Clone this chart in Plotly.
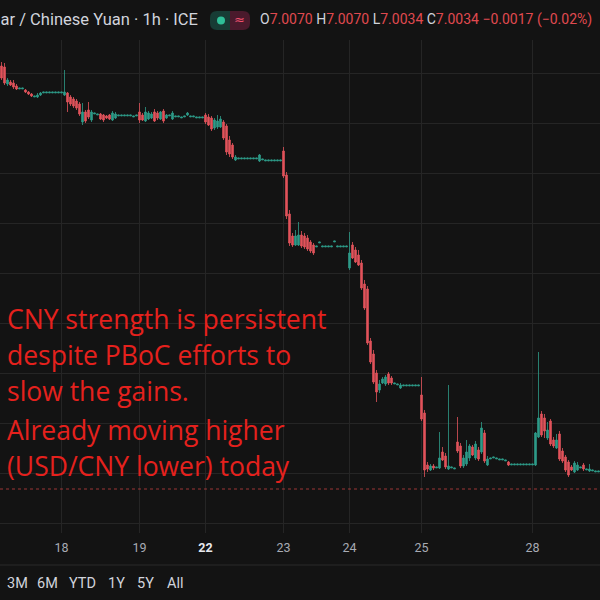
import plotly.graph_objects as go

# ---------------- data (hourly USD/CNY bars) ----------------
open_ = [
    7.0457, 7.0456, 7.0439, 7.0441, 7.0440, 7.0437, 7.0434, 7.0434, 7.0433, 7.0431,
    7.0429, 7.0426, 7.0426, 7.0428, 7.0430, 7.0430, 7.0430, 7.0430, 7.0430, 7.0430,
    7.0430, 7.0428, 7.0430, 7.0426, 7.0424, 7.0422, 7.0419, 7.0401, 7.0411, 7.0413,
    7.0403, 7.0409, 7.0408, 7.0409, 7.0408, 7.0407, 7.0408, 7.0403, 7.0405, 7.0407,
    7.0407, 7.0407, 7.0407, 7.0407, 7.0406, 7.0407, 7.0411, 7.0408, 7.0402, 7.0404,
    7.0405, 7.0411, 7.0410, 7.0404, 7.0412, 7.0405, 7.0407, 7.0404, 7.0406, 7.0406,
    7.0405, 7.0406, 7.0408, 7.0406, 7.0406, 7.0405, 7.0405, 7.0405, 7.0408, 7.0406,
    7.0405, 7.0395, 7.0396, 7.0396, 7.0401, 7.0397, 7.0383, 7.0378, 7.0363, 7.0364,
    7.0364, 7.0364, 7.0364, 7.0364, 7.0364, 7.0364, 7.0362, 7.0363, 7.0362, 7.0362,
    7.0362, 7.0362, 7.0362, 7.0362, 7.0372, 7.0348, 7.0309, 7.0287, 7.0278, 7.0278,
    7.0288, 7.0287, 7.0285, 7.0281, 7.0278, 7.0276, 7.0280, 7.0276, 7.0276, 7.0276,
    7.0276, 7.0281, 7.0276, 7.0276, 7.0276, 7.0276, 7.0255, 7.0278, 7.0273, 7.0268,
    7.0260, 7.0239, 7.0234, 7.0182, 7.0169, 7.0150, 7.0133, 7.0140, 7.0139, 7.0149,
    7.0145, 7.0139, 7.0138, 7.0135, 7.0137, 7.0137, 7.0137, 7.0137, 7.0137, 7.0137,
    7.0128, 7.0110, 7.0058, 7.0053, 7.0057, 7.0055, 7.0055, 7.0071, 7.0067, 7.0054,
    7.0055, 7.0054, 7.0081, 7.0077, 7.0057, 7.0059, 7.0065, 7.0076, 7.0065, 7.0073,
    7.0071, 7.0090, 7.0058, 7.0064, 7.0065, 7.0064, 7.0063, 7.0063, 7.0062, 7.0061,
    7.0058, 7.0058, 7.0058, 7.0058, 7.0058, 7.0058, 7.0058, 7.0058, 7.0058, 7.0086,
    7.0109, 7.0105, 7.0085, 7.0102, 7.0083, 7.0075, 7.0089, 7.0072, 7.0066, 7.0061,
    7.0056, 7.0051, 7.0053, 7.0055, 7.0058, 7.0053, 7.0052, 7.0052, 7.0051, 7.0051,
]
high = [
    7.0461, 7.0460, 7.0445, 7.0443, 7.0443, 7.0439, 7.0435, 7.0435, 7.0434, 7.0432,
    7.0430, 7.0427, 7.0430, 7.0431, 7.0431, 7.0431, 7.0431, 7.0431, 7.0431, 7.0431,
    7.0431, 7.0453, 7.0431, 7.0428, 7.0426, 7.0424, 7.0421, 7.0420, 7.0413, 7.0421,
    7.0413, 7.0410, 7.0409, 7.0410, 7.0409, 7.0408, 7.0409, 7.0412, 7.0411, 7.0408,
    7.0408, 7.0408, 7.0408, 7.0408, 7.0407, 7.0408, 7.0420, 7.0410, 7.0416, 7.0412,
    7.0411, 7.0414, 7.0412, 7.0412, 7.0414, 7.0409, 7.0408, 7.0412, 7.0407, 7.0407,
    7.0406, 7.0407, 7.0411, 7.0407, 7.0407, 7.0406, 7.0406, 7.0406, 7.0410, 7.0409,
    7.0407, 7.0405, 7.0408, 7.0407, 7.0403, 7.0399, 7.0387, 7.0380, 7.0368, 7.0365,
    7.0365, 7.0365, 7.0365, 7.0365, 7.0365, 7.0365, 7.0369, 7.0364, 7.0363, 7.0363,
    7.0363, 7.0363, 7.0363, 7.0363, 7.0376, 7.0351, 7.0313, 7.0290, 7.0293, 7.0301,
    7.0292, 7.0290, 7.0288, 7.0283, 7.0280, 7.0277, 7.0281, 7.0277, 7.0277, 7.0277,
    7.0277, 7.0282, 7.0277, 7.0277, 7.0277, 7.0277, 7.0291, 7.0281, 7.0276, 7.0273,
    7.0263, 7.0243, 7.0237, 7.0185, 7.0173, 7.0153, 7.0143, 7.0146, 7.0148, 7.0151,
    7.0147, 7.0140, 7.0139, 7.0140, 7.0138, 7.0138, 7.0138, 7.0138, 7.0138, 7.0138,
    7.0146, 7.0113, 7.0061, 7.0059, 7.0059, 7.0056, 7.0091, 7.0076, 7.0070, 7.0138,
    7.0056, 7.0055, 7.0106, 7.0080, 7.0068, 7.0083, 7.0079, 7.0078, 7.0082, 7.0076,
    7.0101, 7.0093, 7.0067, 7.0065, 7.0066, 7.0065, 7.0064, 7.0064, 7.0063, 7.0062,
    7.0059, 7.0059, 7.0059, 7.0059, 7.0059, 7.0059, 7.0059, 7.0059, 7.0091, 7.0171,
    7.0112, 7.0109, 7.0101, 7.0104, 7.0086, 7.0089, 7.0092, 7.0075, 7.0068, 7.0063,
    7.0058, 7.0062, 7.0061, 7.0056, 7.0060, 7.0054, 7.0059, 7.0053, 7.0052, 7.0052,
]
low = [
    7.0443, 7.0438, 7.0437, 7.0437, 7.0434, 7.0433, 7.0434, 7.0434, 7.0430, 7.0428,
    7.0426, 7.0426, 7.0425, 7.0427, 7.0430, 7.0430, 7.0430, 7.0430, 7.0430, 7.0430,
    7.0430, 7.0427, 7.0411, 7.0417, 7.0415, 7.0413, 7.0407, 7.0398, 7.0400, 7.0404,
    7.0401, 7.0409, 7.0408, 7.0403, 7.0401, 7.0404, 7.0403, 7.0402, 7.0404, 7.0407,
    7.0407, 7.0407, 7.0407, 7.0407, 7.0406, 7.0407, 7.0400, 7.0402, 7.0401, 7.0403,
    7.0404, 7.0401, 7.0403, 7.0403, 7.0400, 7.0404, 7.0407, 7.0403, 7.0406, 7.0406,
    7.0405, 7.0406, 7.0407, 7.0406, 7.0406, 7.0405, 7.0405, 7.0405, 7.0399, 7.0397,
    7.0392, 7.0393, 7.0394, 7.0395, 7.0383, 7.0368, 7.0366, 7.0364, 7.0362, 7.0364,
    7.0364, 7.0364, 7.0364, 7.0364, 7.0364, 7.0364, 7.0361, 7.0363, 7.0362, 7.0362,
    7.0362, 7.0362, 7.0362, 7.0362, 7.0345, 7.0304, 7.0277, 7.0276, 7.0277, 7.0277,
    7.0275, 7.0274, 7.0272, 7.0270, 7.0268, 7.0276, 7.0280, 7.0276, 7.0276, 7.0276,
    7.0276, 7.0281, 7.0276, 7.0276, 7.0276, 7.0276, 7.0253, 7.0264, 7.0260, 7.0257,
    7.0233, 7.0213, 7.0178, 7.0159, 7.0139, 7.0121, 7.0130, 7.0139, 7.0137, 7.0138,
    7.0138, 7.0139, 7.0138, 7.0134, 7.0137, 7.0137, 7.0137, 7.0137, 7.0137, 7.0137,
    7.0102, 7.0046, 7.0051, 7.0052, 7.0053, 7.0055, 7.0054, 7.0062, 7.0054, 7.0053,
    7.0055, 7.0054, 7.0070, 7.0055, 7.0055, 7.0057, 7.0062, 7.0067, 7.0063, 7.0062,
    7.0069, 7.0060, 7.0057, 7.0064, 7.0065, 7.0064, 7.0063, 7.0063, 7.0062, 7.0057,
    7.0058, 7.0058, 7.0058, 7.0058, 7.0058, 7.0058, 7.0058, 7.0058, 7.0057, 7.0085,
    7.0086, 7.0085, 7.0083, 7.0077, 7.0075, 7.0074, 7.0062, 7.0060, 7.0051, 7.0046,
    7.0052, 7.0050, 7.0052, 7.0055, 7.0052, 7.0053, 7.0051, 7.0052, 7.0051, 7.0051,
]
close = [
    7.0445, 7.0440, 7.0443, 7.0438, 7.0436, 7.0434, 7.0435, 7.0435, 7.0431, 7.0429,
    7.0427, 7.0427, 7.0428, 7.0430, 7.0431, 7.0431, 7.0431, 7.0431, 7.0431, 7.0431,
    7.0431, 7.0431, 7.0421, 7.0419, 7.0417, 7.0415, 7.0409, 7.0411, 7.0402, 7.0406,
    7.0411, 7.0410, 7.0409, 7.0404, 7.0403, 7.0405, 7.0404, 7.0410, 7.0409, 7.0408,
    7.0408, 7.0408, 7.0408, 7.0408, 7.0407, 7.0408, 7.0403, 7.0403, 7.0411, 7.0410,
    7.0409, 7.0402, 7.0405, 7.0411, 7.0402, 7.0408, 7.0408, 7.0410, 7.0407, 7.0407,
    7.0406, 7.0407, 7.0410, 7.0407, 7.0407, 7.0406, 7.0406, 7.0406, 7.0401, 7.0398,
    7.0394, 7.0403, 7.0402, 7.0404, 7.0385, 7.0371, 7.0369, 7.0366, 7.0366, 7.0365,
    7.0365, 7.0365, 7.0365, 7.0365, 7.0365, 7.0365, 7.0368, 7.0364, 7.0363, 7.0363,
    7.0363, 7.0363, 7.0363, 7.0363, 7.0347, 7.0307, 7.0280, 7.0278, 7.0287, 7.0288,
    7.0277, 7.0276, 7.0274, 7.0272, 7.0270, 7.0277, 7.0281, 7.0277, 7.0277, 7.0277,
    7.0277, 7.0282, 7.0277, 7.0277, 7.0277, 7.0277, 7.0270, 7.0265, 7.0261, 7.0258,
    7.0235, 7.0215, 7.0180, 7.0161, 7.0141, 7.0131, 7.0139, 7.0144, 7.0146, 7.0140,
    7.0140, 7.0140, 7.0139, 7.0138, 7.0138, 7.0138, 7.0138, 7.0138, 7.0138, 7.0138,
    7.0104, 7.0053, 7.0054, 7.0057, 7.0055, 7.0056, 7.0065, 7.0063, 7.0056, 7.0057,
    7.0056, 7.0055, 7.0072, 7.0057, 7.0065, 7.0071, 7.0077, 7.0068, 7.0079, 7.0064,
    7.0095, 7.0062, 7.0064, 7.0065, 7.0066, 7.0065, 7.0064, 7.0064, 7.0063, 7.0058,
    7.0059, 7.0059, 7.0059, 7.0059, 7.0059, 7.0059, 7.0059, 7.0059, 7.0090, 7.0105,
    7.0088, 7.0092, 7.0093, 7.0079, 7.0077, 7.0083, 7.0064, 7.0062, 7.0053, 7.0048,
    7.0053, 7.0060, 7.0058, 7.0056, 7.0054, 7.0054, 7.0054, 7.0053, 7.0052, 7.0052,
]
bar_index = list(range(len(open_)))

day_tick_bars = [20, 46, 68, 94, 116, 140, 177]
day_tick_labels = ["18", "19", "22", "23", "24", "25", "28"]
bold_day = "22"

last_price = 7.0034
hdr = {"O": "7.0070", "H": "7.0070", "L": "7.0034", "C": "7.0034"}
hdr_change = "\u22120.0017 (\u22120.02%)"
symbol_title = "U.S. Dollar / Chinese Yuan \u00b7 1h \u00b7 ICE"
range_buttons = ["3M", "6M", "YTD", "1Y", "5Y", "All"]
note_lines = [
    "CNY strength is persistent",
    "despite PBoC efforts to",
    "slow the gains.",
    "Already moving higher",
    "(USD/CNY lower) today",
]

# ---------------- style ----------------
BG = "#131313"
GRID = "#252525"
UP = "#2f9c89"
DOWN = "#e2545c"
TXT = "#d1d4dc"
NOTE_RED = "#e5211d"

W, H = 600, 600
M_T, M_B = 40, 67
PLOT_H = H - M_T - M_B


def px_x(px):
    return px / W


def px_y(py):
    return (H - M_B - py) / PLOT_H


fig = go.Figure(
    go.Candlestick(
        x=bar_index, open=open_, high=high, low=low, close=close,
        increasing=dict(line=dict(color=UP, width=0.8), fillcolor=UP),
        decreasing=dict(line=dict(color=DOWN, width=0.8), fillcolor=DOWN),
        whiskerwidth=0, hoverinfo="skip",
    )
)

ticktext = []
for t in day_tick_labels:
    if t == bold_day:
        ticktext.append("<b><span style='color:#e6e8ee'>%s</span></b>" % t)
    else:
        ticktext.append(t)

fig.update_layout(
    width=W, height=H,
    margin=dict(l=0, r=0, t=M_T, b=M_B),
    paper_bgcolor=BG, plot_bgcolor=BG,
    showlegend=False,
    boxgap=0.18,
    xaxis=dict(
        range=[-0.5, len(open_) - 0.5],
        tickvals=day_tick_bars, ticktext=ticktext,
        showgrid=True, gridcolor=GRID, gridwidth=1,
        zeroline=False, showline=False, ticks="",
        ticklabelstandoff=5,
        tickfont=dict(family="Roboto", size=12.5, color="#a8abb3"),
        rangeslider=dict(visible=False),
        fixedrange=True,
    ),
    yaxis=dict(
        range=[6.9990, 7.0483],
        tick0=7.0, dtick=0.005,
        showticklabels=False,
        showgrid=True, gridcolor=GRID, gridwidth=1,
        zeroline=False, showline=False,
        fixedrange=True,
    ),
)

# last price dotted line
fig.add_shape(type="line", xref="paper", x0=0, x1=1, yref="y", y0=last_price, y1=last_price,
              line=dict(color="rgba(214,70,70,0.7)", width=1, dash="dot"))

# separator above range buttons
fig.add_shape(type="line", xref="paper", x0=0, x1=1, yref="paper", y0=px_y(565), y1=px_y(565),
              line=dict(color="#2b2b2b", width=1))

annotations = []

# header title (left part cropped by the screenshot edge)
annotations.append(dict(
    text=symbol_title, xref="paper", yref="paper", x=px_x(200), y=px_y(20),
    xanchor="right", yanchor="middle", showarrow=False,
    font=dict(family="Roboto", size=16.5, color=TXT),
))


# header pill (status icons) with rounded outer ends
def pill_half(xa, xb, round_left):
    r = 7
    ya, yb = 11, 30
    if round_left:
        pts = "M %f,%f L %f,%f L %f,%f L %f,%f Q %f,%f %f,%f L %f,%f Q %f,%f %f,%f Z" % (
            px_x(xb), px_y(ya), px_x(xb), px_y(yb), px_x(xa + r), px_y(yb),
            px_x(xa + r), px_y(yb), px_x(xa), px_y(yb), px_x(xa), px_y(yb - r),
            px_x(xa), px_y(ya + r), px_x(xa), px_y(ya), px_x(xa + r), px_y(ya))
    else:
        pts = "M %f,%f L %f,%f L %f,%f L %f,%f Q %f,%f %f,%f L %f,%f Q %f,%f %f,%f Z" % (
            px_x(xa), px_y(yb), px_x(xa), px_y(ya), px_x(xb - r), px_y(ya),
            px_x(xb - r), px_y(ya), px_x(xb), px_y(ya), px_x(xb), px_y(ya + r),
            px_x(xb), px_y(yb - r), px_x(xb), px_y(yb), px_x(xb - r), px_y(yb))
    return pts


fig.add_shape(type="path", xref="paper", yref="paper", path=pill_half(210, 230, True),
              fillcolor="#173c35", line=dict(width=0), layer="above")
fig.add_shape(type="path", xref="paper", yref="paper", path=pill_half(230, 250, False),
              fillcolor="#4a1a2c", line=dict(width=0), layer="above")
fig.add_shape(type="circle", xref="paper", yref="paper",
              x0=px_x(217), x1=px_x(225), y0=px_y(24.5), y1=px_y(16.5),
              fillcolor="#2fbf98", line=dict(width=0), layer="above")
annotations.append(dict(
    text="\u2248", xref="paper", yref="paper", x=px_x(239), y=px_y(20),
    xanchor="center", yanchor="middle", showarrow=False,
    font=dict(family="DejaVu Sans", size=13, color="#f0506e"),
))

# OHLC readout
val = "<span style='color:#e04a50'>%s</span>"
ohlc_text = " ".join(k + val % v for k, v in hdr.items()) + " " + val % hdr_change
annotations.append(dict(
    text=ohlc_text, xref="paper", yref="paper", x=px_x(258), y=px_y(20),
    xanchor="left", yanchor="middle", showarrow=False,
    font=dict(family="Roboto", size=14, color=TXT),
))

# red note
note_y = [319, 355, 391, 430, 466]
for line, yy in zip(note_lines, note_y):
    annotations.append(dict(
        text=line, xref="paper", yref="paper", x=px_x(5), y=px_y(yy),
        xanchor="left", yanchor="middle", showarrow=False,
        font=dict(family="Open Sans", size=26.5, color=NOTE_RED),
    ))

# range buttons
btn_x = [5, 35, 67, 106, 135, 165]
for b, bx in zip(range_buttons, btn_x):
    annotations.append(dict(
        text=b, xref="paper", yref="paper", x=px_x(bx), y=px_y(583),
        xanchor="left", yanchor="middle", showarrow=False,
        font=dict(family="Roboto", size=14.5, color=TXT),
    ))

fig.update_layout(annotations=annotations)

fig.write_html(
    "out.html",
    config={"displayModeBar": False},
    post_script="document.body.style.margin='0';",
)
